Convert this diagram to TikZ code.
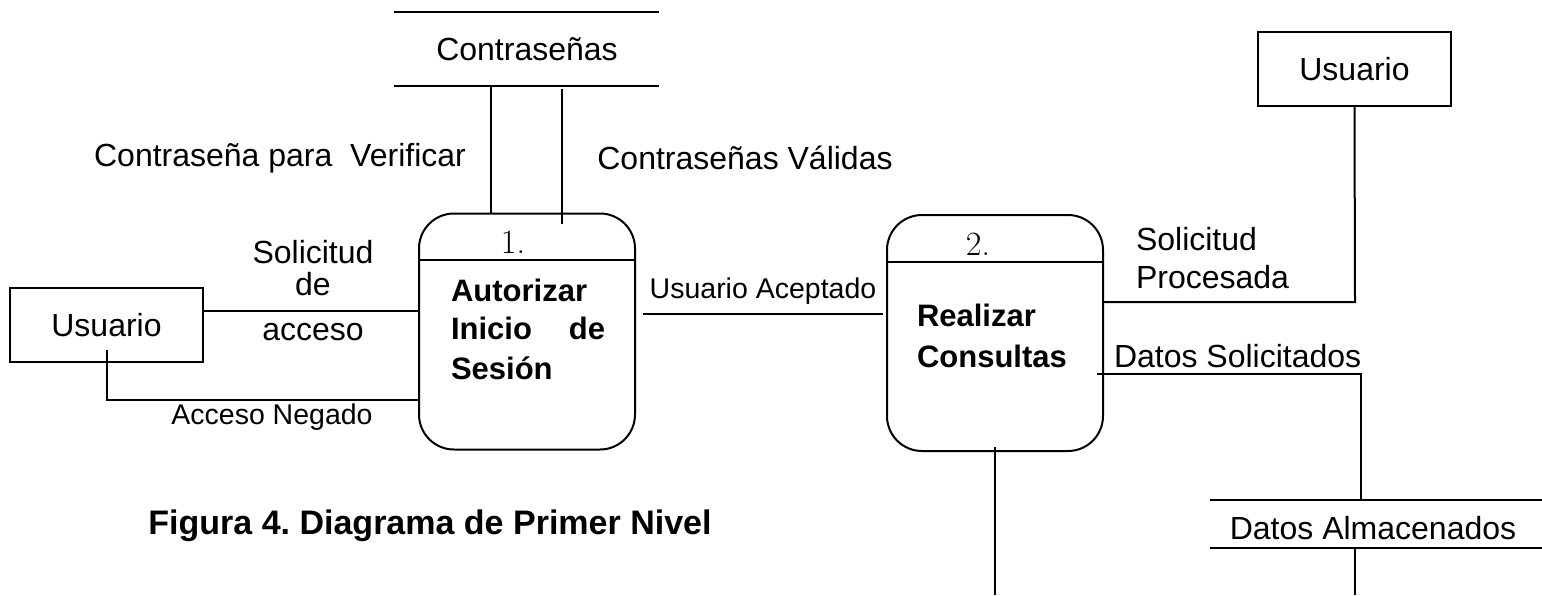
\documentclass[tikz,border=0pt]{standalone}
\usepackage{fontspec}
\newfontfamily\arial{Liberation Sans}
\frenchspacing
\begin{document}
\begin{tikzpicture}[x=1pt,y=-1pt,line width=2pt,
  lbl/.style={inner sep=0pt,font=\arial\fontsize{32}{37}\selectfont},
  sml/.style={inner sep=0pt,font=\arial\fontsize{28.5}{34}\selectfont},
  bld/.style={inner sep=0pt,anchor=base west,font=\arial\bfseries\fontsize{31}{37}\selectfont},
  num/.style={inner sep=0pt,anchor=base,font=\fontsize{34}{40}\selectfont},
  ent/.style={draw,minimum width=193pt,minimum height=74pt,inner sep=0pt,font=\arial\fontsize{32}{37}\selectfont},
  proc/.style={draw,rounded corners=35pt,minimum width=216pt,minimum height=236pt,inner sep=0pt}]
\useasboundingbox (0,0) rectangle (1542,595);
% Data store Contraseñas
\draw (394,12) -- (659,12);
\draw (394,86) -- (659,86);
\node[lbl] (st1) at (527,49) {Contraseñas};
% Data store Datos Almacenados
\draw (1210,500) -- (1542,500);
\draw (1210,548) -- (1542,548);
\node[lbl] (st2) at (1373,528) {Datos Almacenados};
% Entities
\node[ent] (u1) at (106.5,325) {Usuario};
\node[ent] (u2) at (1354.5,69) {Usuario};
% Processes
\node[proc] (p1) at (527,331.5) {};
\node[proc] (p2) at (995,333) {};
\draw (p1.west |- 0,260) -- (p1.east |- 0,260);
\draw (p2.west |- 0,262) -- (p2.east |- 0,262);
\node[num] (n1) at (513,253) {1.};
\node[num] (n2) at (978,255) {2.};
\node[bld] (t1a) at (450,301) {Autorizar};
\node[bld] (t1b) at (450,339) {Inicio};
\node[bld,anchor=base east] (t1c) at (606,339) {de};
\node[bld] (t1d) at (450,379) {Sesión};
\node[bld] (t2a) at (916,326) {Realizar};
\node[bld] (t2b) at (916,367) {Consultas};
% Connectors
\coordinate (c1) at (491,86);
\draw (c1) -- (c1 |- p1.north);
\coordinate (c2) at (562,89);
\coordinate (c2e) at (562,224);
\draw (c2) -- (c2e);
\coordinate (a1) at (u1.east |- 0,311);
\draw (a1) -- (a1 -| p1.west);
\coordinate (an) at (107,350);
\draw (an) -- (107,400) -- (p1.west |- 0,400);
\coordinate (ua1) at (643,314);
\coordinate (ua2) at (883,314);
\draw (ua1) -- (ua2);
\draw (u2.south) -- (1355,302) -- (p2.east |- 0,302);
\coordinate (ds1) at (1097,374);
\draw (ds1) -- (1361,374) -- (1361,499);
\coordinate (sb) at (1355,548);
\draw (sb) -- (1355,595);
\coordinate (pb) at (995,447);
\draw (pb) -- (995,595);
% Labels
\node[lbl] (l1) at (280,158) {Contraseña para\ \ Verificar};
\node[lbl] (l2) at (745,158) {Contraseñas Válidas};
\node[lbl,align=center,anchor=base] (l3) at (313,340) {Solicitud\\[-5pt]de\\[8pt]acceso};
\node[sml] (l4) at (272,417) {Acceso Negado};
\node[sml] (l5) at (763,291) {Usuario Aceptado};
\node[lbl,align=left,anchor=north west] (l6) at (1135,226) {Solicitud\\[1pt]Procesada};
\node[lbl,anchor=west] (l7) at (1113,356) {Datos Solicitados};
\node[inner sep=0pt,font=\arial\bfseries\fontsize{34}{40}\selectfont] (cap) at (430,526) {Figura 4. Diagrama de Primer Nivel};
\end{tikzpicture}
\end{document}
